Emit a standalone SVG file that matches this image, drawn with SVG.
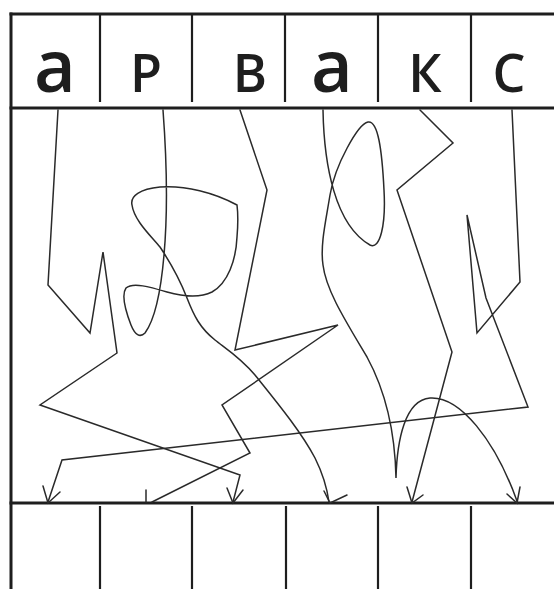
<svg xmlns="http://www.w3.org/2000/svg" width="554" height="589" viewBox="0 0 554 589">
<style>
.frame{stroke:#1e1e1e;stroke-width:3;fill:none;stroke-linecap:square}
.div{stroke:#1e1e1e;stroke-width:2.2;fill:none}
.lt{font-family:"Open Sans","Noto Sans","DejaVu Sans",sans-serif;font-weight:600;fill:#1e1e1e;text-anchor:middle}
.cap{font-size:52px}
.low{font-size:72px}
.c{stroke:#2a2a2a;stroke-width:1.5;fill:none;stroke-linejoin:miter;stroke-linecap:round}
.ah{stroke:#2a2a2a;stroke-width:1.5;fill:none;stroke-linecap:round}
</style>
<rect width="554" height="589" fill="#ffffff"/>
<g id="frame">
<line class="frame" x1="11" y1="14" x2="556" y2="14"/>
<line class="frame" x1="11" y1="14" x2="11" y2="592"/>
<line class="frame" x1="11" y1="108" x2="556" y2="108"/>
<line class="frame" x1="11" y1="503" x2="556" y2="503"/>
</g>
<g id="top-1"><text class="lt low" x="55" y="92">а</text></g>
<g id="top-2"><line class="div" x1="100" y1="14" x2="100" y2="102"/><text class="lt cap" x="146" y="92">Р</text></g>
<g id="top-3"><line class="div" x1="192" y1="14" x2="192" y2="102"/><text class="lt cap" x="250" y="92">В</text></g>
<g id="top-4"><line class="div" x1="285" y1="14" x2="285" y2="102"/><text class="lt low" x="332" y="92">а</text></g>
<g id="top-5"><line class="div" x1="378" y1="14" x2="378" y2="102"/><text class="lt cap" x="425" y="92">К</text></g>
<g id="top-6"><line class="div" x1="471" y1="14" x2="471" y2="102"/><text class="lt cap" x="509" y="92">С</text></g>
<g id="bottom-1"></g>
<g id="bottom-2"><line class="div" x1="100" y1="506" x2="100" y2="589"/></g>
<g id="bottom-3"><line class="div" x1="192" y1="506" x2="192" y2="589"/></g>
<g id="bottom-4"><line class="div" x1="286" y1="506" x2="286" y2="589"/></g>
<g id="bottom-5"><line class="div" x1="378" y1="506" x2="378" y2="589"/></g>
<g id="bottom-6"><line class="div" x1="471" y1="506" x2="471" y2="589"/></g>
<g id="connectors">
<path class="c" d="M58,110 L48,285 L90,333 L103,252 L117,353 L40,405 L240,475 L233,502"/>
<path class="c" d="M163,110 C166,150 168,210 164,255 C161,290 156,318 145,333 C140,338 135,335 131,325 C126,312 121,295 126,288 C133,282 150,287 167,292 C185,297 200,298 212,292 C228,283 236,260 237,237 C238,225 238,213 237,205 C215,193 185,185 160,187 C140,189 130,196 132,205 C134,220 150,235 160,247 C170,262 180,280 187,298 C194,316 200,328 215,340 C225,348 240,357 255,375 C275,400 300,430 315,458 C322,472 327,488 329,502"/>
<path class="c" d="M240,110 L267,190 L235,350 L338,325 L222,405 L250,453 L152,502"/>
<path class="c" d="M323,110 C324,165 335,225 370,245 C380,250 386,225 384,190 C382,150 378,120 368,122 C358,124 335,165 330,195 C326,220 320,245 323,265 C326,290 345,320 367,357 C385,390 395,430 396,478 C397,440 405,400 430,398 C460,396 495,440 517,501"/>
<path class="c" d="M420,110 L453,143 L397,190 L452,352 L412,502"/>
<path class="c" d="M512,110 L520,282 L477,333 L467,215 L486,298 L528,407 L62,460 L48,502"/>
<path class="ah" d="M43,486 L48,503 L60,492"/>
<path class="ah" d="M146,490 L146,502"/>
<path class="ah" d="M227,488 L233,503 L243,490"/>
<path class="ah" d="M324,491 L330,503 L347,495"/>
<path class="ah" d="M407,487 L412,503 L423,495"/>
<path class="ah" d="M507,494 L517,503 L520,487"/>
</g>
</svg>
